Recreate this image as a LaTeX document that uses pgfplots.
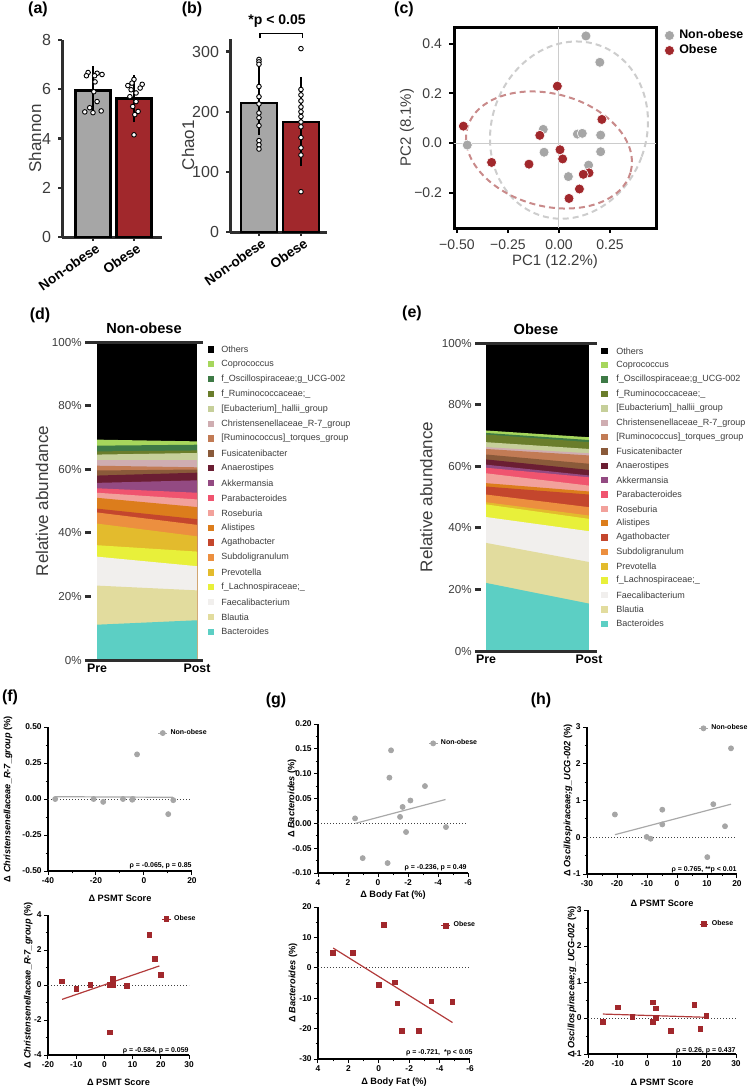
\documentclass[border=0pt]{standalone}
\usepackage{fontspec}
\setmainfont{Liberation Sans}
\usepackage{pgfplots}
\pgfplotsset{compat=1.18}

\newcommand\fs[1]{\fontsize{#1}{#1}\selectfont}

\definecolor{nob}{HTML}{A6A6A6}
\definecolor{obr}{HTML}{A1282C}
\definecolor{axd}{HTML}{2E2E2E}
\definecolor{txt}{HTML}{3C3C3C}
\definecolor{fitg}{HTML}{A9A9A9}
\definecolor{fitr}{HTML}{B23B3B}
\definecolor{elg}{HTML}{CDCDCD}
\definecolor{elr}{HTML}{C98A8A}
% taxa colours
\definecolor{tOthers}{HTML}{000000}
\definecolor{tCopro}{HTML}{A6D65C}
\definecolor{tOscill}{HTML}{3E7A46}
\definecolor{tRumino}{HTML}{6A7D2B}
\definecolor{tHallii}{HTML}{C6CF9A}
\definecolor{tChrist}{HTML}{CFADB1}
\definecolor{tTorques}{HTML}{C27B55}
\definecolor{tFusi}{HTML}{8A5A3A}
\definecolor{tAnaero}{HTML}{6B1E33}
\definecolor{tAkk}{HTML}{934A82}
\definecolor{tParab}{HTML}{F0546F}
\definecolor{tRoseb}{HTML}{F2A19B}
\definecolor{tAlist}{HTML}{DC7D1C}
\definecolor{tAgath}{HTML}{C4462D}
\definecolor{tSubdo}{HTML}{EC8F3F}
\definecolor{tPrev}{HTML}{E3BB2D}
\definecolor{tLachno}{HTML}{E8F03A}
\definecolor{tFaecal}{HTML}{F1EFED}
\definecolor{tBlautia}{HTML}{E2DC9E}
\definecolor{tBacter}{HTML}{5CCFC4}

% one band of the relative-abundance chart: colour, top at Pre, top at Post
\newcommand\band[3]{\addplot[fill=#1, draw=none] coordinates {(0,#2) (1,#3)} \closedcycle;}

\tikzset{
  zero/.style={densely dotted, line width=0.5pt, black!75},
  note/.style={anchor=east, font=\bfseries\fs{3.5}, inner sep=0pt},
}

\pgfplotsset{
  barax/.style={
    scale only axis, anchor=south west, clip=false,
    axis lines=left, axis line style={-, line width=1.5pt, color=axd},
    tick align=outside, major tick length=2pt,
    tick style={line width=1.2pt, color=axd},
    /pgf/number format/assume math mode=true,
    tick label style={font=\fs{8}, color=txt},
    xtick={0,1}, xticklabels={Non-obese,Obese},
    xticklabel style={font=\bfseries\fs{6.8}, color=black, rotate=35, anchor=north east, inner sep=1pt, xshift=1.5pt},
    ylabel style={font=\fs{8.5}, color=txt, anchor=center},
  },
  barstyle/.style={ybar, bar shift=0pt, bar width=0.85, draw=black, line width=1.2pt,
    error bars/.cd, y dir=both, y explicit,
    error bar style={line width=1pt, black},
    error mark options={line width=1pt, black, mark size=4.5pt}},
  dots/.style={only marks, mark=*, mark size=1.15pt, mark options={fill=white, draw=black, line width=0.45pt}},
  stackax/.style={
    scale only axis, anchor=south west, clip=false, axis on top,
    ymin=0, ymax=100,
    axis x line=bottom, axis y line=left,
    x axis line style={-, line width=1.5pt, color=axd},
    y axis line style={draw=none},
    xtick={0,1}, xticklabels={Pre,Post}, x tick style={draw=none},
    xticklabel style={font=\bfseries\fs{6.2}, color=black, inner sep=1pt, yshift=-1pt},
    ytick={0,20,40,60,80,100}, yticklabels={0\%,20\%,40\%,60\%,80\%,100\%},
    y tick style={line width=1.5pt, color=axd}, tick align=inside, major tick length=3pt,
    yticklabel style={font=\fs{5.8}, color=txt, inner sep=0pt, xshift=-1.5pt},
    ylabel={Relative abundance}, ylabel style={font=\fs{8.5}, color=txt, anchor=center},
    title style={font=\bfseries\fs{7.3}, color=black, at={(axis description cs:0.5,1)}, anchor=base, yshift=-1.5pt},
  },
  gp/.style={
    scale only axis, anchor=south west, clip=false,
    axis x line=bottom, axis y line=left, axis line style={-, line width=0.6pt, black},
    tick align=outside, major tick length=2pt, minor tick length=1.2pt,
    tick style={line width=0.5pt, black},
    /pgf/number format/assume math mode=true,
    tick label style={font=\bfseries\fs{4.2}, inner sep=1pt},
    label style={font=\bfseries\fs{4.6}, anchor=center},
    minor y tick num=1,
    legend style={draw=none, fill=none, font=\bfseries\fs{3.5}, inner sep=0pt, anchor=west,
      column sep=1pt, nodes={inner sep=0.5pt}},
    legend image code/.code={\draw[##1, mark repeat=2, mark phase=2] plot coordinates {(0pt,0pt) (2.2pt,0pt) (4.4pt,0pt)};},
    legend cell align=left,
  },
  nobpts/.style={only marks, mark=*, mark size=1.25pt, mark options={fill=nob, draw=nob}},
  obpts/.style={only marks, mark=square*, mark size=1.15pt, mark options={fill=obr, draw=obr}},
  nobleg/.style={draw=nob, line width=0.4pt, mark=*, mark size=1.25pt, mark options={fill=nob, draw=nob}},
  obleg/.style={draw=obr, line width=0.4pt, mark=square*, mark size=1.15pt, mark options={fill=obr, draw=obr}},
}

\begin{document}
\begin{tikzpicture}
\useasboundingbox (0,0) rectangle (375pt,-544pt);

% panel letters
\node[font=\bfseries\fs{8}] at (19pt,-4.5pt) {(a)};
\node[font=\bfseries\fs{8}] at (96pt,-4.5pt) {(b)};
\node[font=\bfseries\fs{8}] at (202pt,-4.5pt) {(c)};
\node[font=\bfseries\fs{8}] at (20pt,-157.5pt) {(d)};
\node[font=\bfseries\fs{8}] at (206pt,-156.5pt) {(e)};
\node[font=\bfseries\fs{8}] at (5pt,-348.5pt) {(f)};
\node[font=\bfseries\fs{8}] at (138pt,-350pt) {(g)};
\node[font=\bfseries\fs{8}] at (270.5pt,-350pt) {(h)};

% (a) Shannon
\begin{axis}[barax, at={(31pt,-118.5pt)}, width=50pt, height=98.5pt,
  xmin=-0.756, xmax=1.683, ymin=0, ymax=8, ytick={0,2,4,6,8},
  ylabel={Shannon}, ylabel style={at={(axis description cs:-0.27,0.5)}}]
\addplot[fill=nob, barstyle] coordinates {(0,5.95) +- (0,0.62)};
\addplot[fill=obr, barstyle] coordinates {(1,5.62) +- (0,0.60)};
\addplot[dots] coordinates {(-0.12,6.68) (0.10,6.65) (-0.16,6.55) (0.22,6.60) (0.04,6.55) (0.05,6.30)
  (0.02,5.90) (0.10,5.50) (-0.08,5.25) (-0.20,5.08) (0.00,5.05) (0.20,5.12)};
\addplot[dots] coordinates {(1.00,6.40) (0.85,6.15) (1.20,6.20) (0.95,6.25) (0.93,5.98) (1.05,5.85)
  (0.90,5.70) (1.05,5.50) (0.97,5.30) (1.10,5.10) (1.02,4.97) (1.00,4.15) (1.15,6.05)};
\end{axis}

% (b) Chao1
\begin{axis}[barax, at={(115pt,-116pt)}, width=48.5pt, height=96.5pt,
  xmin=-0.69, xmax=1.62, ymin=0, ymax=321, ytick={0,100,200,300},
  ylabel={Chao1}, ylabel style={at={(axis description cs:-0.433,0.45)}}]
\addplot[fill=nob, barstyle] coordinates {(0,215) += (0,50) -= (0,38)};
\addplot[fill=obr, barstyle] coordinates {(1,183) += (0,60) -= (0,59)};
\addplot[dots] coordinates {(0,287) (0,283) (0,279) (0,242) (0,225) (0,213) (0,198) (0,190)
  (0,177) (0,152) (0,145) (0,138)};
\addplot[dots] coordinates {(1,305) (1,237) (1,228) (1,218) (1,208) (1,200) (1,192) (1,183)
  (1,175) (1,157) (1,140) (1,128) (1,67)};
\draw[line width=0.8pt, black] (axis cs:0.02,322) -- (axis cs:0.02,330) -- (axis cs:1.04,330) -- (axis cs:1.04,322);
\node[font=\bfseries\fs{7}, inner sep=0pt] at (axis cs:0.43,350) {*p < 0.05};
\end{axis}

% (c) PCoA
\begin{axis}[scale only axis, anchor=south west, at={(227pt,-114pt)}, width=101pt, height=100.5pt,
  xmin=-0.514, xmax=0.475, ymin=-0.342, ymax=0.467,
  axis line style={line width=1.5pt, black},
  tick align=outside, xtick pos=bottom, ytick pos=left, major tick length=2.5pt,
  tick style={line width=0.9pt, black},
  xtick={-0.5,-0.25,0,0.25}, xticklabels={−0.50,−0.25,0.00,0.25},
  ytick={-0.2,0,0.2,0.4}, yticklabels={−0.2,0.0,0.2,0.4},
  tick label style={font=\fs{7}, color=txt},
  xlabel={PC1 (12.2\%)}, ylabel={PC2 (8.1\%)},
  label style={font=\fs{7.5}, color=txt, anchor=center},
  xlabel style={at={(axis description cs:0.5,-0.169)}},
  ylabel style={at={(axis description cs:-0.233,0.5)}},
  clip=false,
  legend style={at={(axis description cs:1.04,0.997)}, anchor=north west, draw=none, fill=none,
    inner sep=0pt, font=\bfseries\fs{6.2}, row sep=0pt, column sep=2pt,
    nodes={inner sep=0.4pt, minimum height=7.5pt}},
  legend cell align=left,
  legend image code/.code={\draw[#1] plot coordinates {(2.5pt,0pt)};}]
\draw[gray!40, line width=0.5pt] (axis cs:0,-0.342) -- (axis cs:0,0.467);
\draw[gray!40, line width=0.5pt] (axis cs:-0.514,0) -- (axis cs:0.475,0);
\draw[elg, line width=1pt, dash pattern=on 3pt off 2pt, rotate around={-20:(axis cs:0.049,0.052)}]
  (axis cs:0.049,0.052) ellipse [x radius=38.7pt, y radius=45pt];
\draw[elr, line width=1pt, dash pattern=on 3pt off 2pt, rotate around={-15:(axis cs:-0.049,-0.028)}]
  (axis cs:-0.049,-0.028) ellipse [x radius=42.3pt, y radius=28.1pt];
\addplot[only marks, mark=*, mark size=2.5pt, mark options={fill=nob, draw=white, line width=0.3pt}]
  coordinates {(0.132,0.431) (0.200,0.325) (-0.077,0.055) (0.090,0.036) (0.114,0.039) (0.204,0.032)
  (-0.073,-0.037) (0.204,-0.035) (0.145,-0.089) (0.046,-0.135) (-0.449,-0.008)};
\addlegendentry{Non-obese}
\addplot[only marks, mark=*, mark size=2.5pt, mark options={fill=obr, draw=white, line width=0.3pt}]
  coordinates {(-0.008,0.229) (0.210,0.095) (-0.094,0.031) (0.005,-0.027) (0.018,-0.064) (-0.147,-0.085)
  (-0.330,-0.078) (0.147,-0.120) (0.119,-0.126) (0.100,-0.185) (0.049,-0.223) (-0.468,0.068)};
\addlegendentry{Obese}
\end{axis}

% (d) Non-obese composition
\begin{axis}[stackax, at={(42.5pt,-330pt)}, width=59pt, height=159pt, xmin=-0.12, xmax=1.06,
  title={Non-obese}, ylabel style={at={(axis description cs:-0.364,0.5)}}]
\band{tOthers}{100}{100}
\band{tCopro}{69.3}{68.75}
\band{tOscill}{67.4}{67.7}
\band{tRumino}{65.6}{65.9}
\band{tHallii}{64.6}{65.1}
\band{tChrist}{63.0}{63.0}
\band{tTorques}{61.1}{60.6}
\band{tFusi}{59.6}{59.9}
\band{tAnaero}{58.0}{58.9}
\band{tAkk}{55.7}{56.5}
\band{tParab}{54.0}{52.6}
\band{tRoseb}{52.6}{50.5}
\band{tAlist}{51.0}{48.1}
\band{tAgath}{47.6}{44.3}
\band{tSubdo}{46.4}{42.5}
\band{tPrev}{42.9}{38.9}
\band{tLachno}{36.1}{34.1}
\band{tFaecal}{32.5}{29.5}
\band{tBlautia}{23.4}{21.9}
\band{tBacter}{11.1}{12.5}
\draw[line width=1.5pt, axd] (rel axis cs:0,1) -- (rel axis cs:1,1);
\end{axis}

% (e) Obese composition
\begin{axis}[stackax, at={(237.5pt,-325.5pt)}, width=61pt, height=154pt, xmin=-0.107, xmax=1.078,
  title={Obese}, ylabel style={at={(axis description cs:-0.40,0.5)}}]
\band{tOthers}{100}{100}
\band{tCopro}{71.6}{69.4}
\band{tOscill}{70.8}{68.5}
\band{tRumino}{70.3}{67.8}
\band{tHallii}{67.8}{65.6}
\band{tChrist}{66.2}{64.2}
\band{tTorques}{65.6}{63.5}
\band{tFusi}{63.8}{60.8}
\band{tAnaero}{62.2}{58.8}
\band{tAkk}{60.5}{57.0}
\band{tParab}{59.5}{56.4}
\band{tRoseb}{57.7}{53.7}
\band{tAlist}{54.5}{51.8}
\band{tAgath}{53.4}{50.8}
\band{tSubdo}{50.8}{46.7}
\band{tPrev}{48.3}{44.0}
\band{tLachno}{47.6}{42.9}
\band{tFaecal}{43.5}{38.9}
\band{tBlautia}{35.1}{28.9}
\band{tBacter}{22.1}{15.4}
\draw[line width=1.5pt, axd] (rel axis cs:0,1) -- (rel axis cs:1,1);
\end{axis}

% legends of (d) and (e)
\foreach \c/\n [count=\i from 0] in {tOthers/Others, tCopro/Coprococcus,
  tOscill/{f\_Oscillospiraceae;g\_UCG-002}, tRumino/{f\_Ruminococcaceae;\_},
  tHallii/{[Eubacterium]\_hallii\_group}, tChrist/{Christensenellaceae\_R-7\_group},
  tTorques/{[Ruminococcus]\_torques\_group}, tFusi/Fusicatenibacter, tAnaero/Anaerostipes,
  tAkk/Akkermansia, tParab/Parabacteroides, tRoseb/Roseburia, tAlist/Alistipes,
  tAgath/Agathobacter, tSubdo/Subdoligranulum, tPrev/Prevotella,
  tLachno/{f\_Lachnospiraceae;\_}, tFaecal/Faecalibacterium, tBlautia/Blautia, tBacter/Bacteroides} {
  \pgfmathsetmacro\ya{-(174.7+\i*7.43)}
  \pgfmathsetmacro\yb{-(175.45+\i*7.18)}
  \fill[\c] (103.9pt,\ya pt-1.6pt) rectangle (107.1pt,\ya pt+1.6pt);
  \node[anchor=west, inner sep=0pt, font=\fs{4.5}, text=txt] at (110.5pt,\ya pt) {\n};
  \fill[\c] (300.65pt,\yb pt-1.6pt) rectangle (303.85pt,\yb pt+1.6pt);
  \node[anchor=west, inner sep=0pt, font=\fs{4.5}, text=txt] at (308pt,\yb pt) {\n};
}

% (f) top
\begin{axis}[gp, at={(24pt,-435.5pt)}, width=72pt, height=72pt,
  xmin=-40, xmax=20, ymin=-0.5, ymax=0.5,
  xtick={-40,-20,0,20}, minor x tick num=1,
  ytick={-0.5,-0.25,0,0.25,0.5},
  yticklabel style={/pgf/number format/fixed, /pgf/number format/fixed zerofill, /pgf/number format/precision=2},
  xlabel={Δ PSMT Score}, xlabel style={at={(axis description cs:0.5,-0.1875)}},
  ylabel={Δ \textit{Christensenellaceae\_R-7\_group} (\%)}, ylabel style={at={(axis description cs:-0.278,0.5)}},
  legend style={at={(axis description cs:0.761,0.958)}}]
\draw[zero] (axis cs:-40,0) -- (axis cs:20,0);
\addplot[fitg, line width=0.6pt, forget plot] coordinates {(-37,0.016) (12,0.012)};
\addplot[nobpts, forget plot] coordinates {(-37,0) (-21,0) (-17,-0.02) (-8.75,0) (-4.7,0) (-4.9,-0.005)
  (-2.9,0.31) (10.1,-0.105) (12.2,-0.008)};
\addlegendimage{nobleg}
\addlegendentry{Non-obese}
\node[note] at (axis description cs:1,0.035) {ρ = -0.065, p = 0.85};
\end{axis}

% (f) bottom
\begin{axis}[gp, at={(24pt,-527.5pt)}, width=70.5pt, height=70pt,
  xmin=-20, xmax=30, ymin=-4, ymax=4,
  xtick={-20,-10,0,10,20,30}, ytick={-4,-2,0,2,4},
  xlabel={Δ PSMT Score}, xlabel style={at={(axis description cs:0.5,-0.193)}},
  ylabel={Δ \textit{Christensenellaceae\_R-7\_group} (\%)}, ylabel style={at={(axis description cs:-0.14,0.5)}},
  legend style={at={(axis description cs:0.803,0.971)}}]
\draw[zero] (axis cs:-20,0) -- (axis cs:30,0);
\addplot[fitr, line width=0.6pt, forget plot] coordinates {(-15,-0.82) (19.5,1.09)};
\addplot[obpts, forget plot] coordinates {(-15,0.2) (-10,-0.22) (-5,0) (2,0) (3,0.35) (3,0)
  (8,-0.05) (2,-2.7) (16,2.85) (18,1.5) (20,0.57)};
\addlegendimage{obleg}
\addlegendentry{Obese}
\node[note] at (axis description cs:1,0.03) {ρ = -0.584, p = 0.059};
\end{axis}

% (g) top
\begin{axis}[gp, at={(159pt,-436.5pt)}, width=75pt, height=74.5pt,
  x dir=reverse, xmin=-6, xmax=4, ymin=-0.1, ymax=0.2,
  xtick={-6,-4,-2,0,2,4}, minor x tick num=1,
  ytick={-0.1,-0.05,0,0.05,0.1,0.15,0.2},
  yticklabel style={/pgf/number format/fixed, /pgf/number format/fixed zerofill, /pgf/number format/precision=2},
  xlabel={Δ Body Fat (\%)}, xlabel style={at={(axis description cs:0.5,-0.148)}},
  ylabel={Δ \textit{Bacteroides} (\%)}, ylabel style={at={(axis description cs:-0.173,0.5)}},
  legend style={at={(axis description cs:0.733,0.87)}}]
\draw[zero] (axis cs:4,0) -- (axis cs:-6,0);
\addplot[fitg, line width=0.6pt, forget plot] coordinates {(1.5,0.0) (-4.5,0.048)};
\addplot[nobpts, forget plot] coordinates {(1.53,0.01) (1.02,-0.07) (-0.64,-0.08) (-0.76,0.092)
  (-0.87,0.147) (-1.47,0.013) (-1.64,0.033) (-1.87,-0.0175) (-2.16,0.046) (-3.13,0.075) (-4.53,-0.0075)};
\addlegendimage{nobleg}
\addlegendentry{Non-obese}
\node[note] at (axis description cs:0.993,0.034) {ρ = -0.236, p = 0.49};
\end{axis}

% (g) bottom
\begin{axis}[gp, at={(159pt,-529.5pt)}, width=76pt, height=76pt,
  x dir=reverse, xmin=-6, xmax=4, ymin=-30, ymax=20,
  xtick={-6,-4,-2,0,2,4}, minor x tick num=1,
  ytick={-30,-20,-10,0,10,20},
  xlabel={Δ Body Fat (\%)}, xlabel style={at={(axis description cs:0.5,-0.151)}},
  ylabel={Δ \textit{Bacteroides} (\%)}, ylabel style={at={(axis description cs:-0.164,0.5)}},
  legend style={at={(axis description cs:0.807,0.877)}}]
\draw[zero] (axis cs:4,0) -- (axis cs:-6,0);
\addplot[fitr, line width=0.6pt, forget plot] coordinates {(3,6.5) (-4.85,-18)};
\addplot[obpts, forget plot] coordinates {(3.0,5.0) (1.7,5.0) (-0.33,14.1) (0,-5.6) (-1.05,-4.8)
  (-1.23,-11.7) (-1.53,-20.7) (-2.65,-20.7) (-3.47,-11.1) (-4.85,-11.2)};
\addlegendimage{obleg}
\addlegendentry{Obese}
\node[note] at (axis description cs:1.02,0.04) {ρ = -0.721,\ \ *p < 0.05};
\end{axis}

% (h) top
\begin{axis}[gp, at={(293.5pt,-437pt)}, width=75pt, height=73.5pt,
  xmin=-30, xmax=20, ymin=-1, ymax=3,
  xtick={-30,-20,-10,0,10,20}, minor x tick num=1,
  ytick={-1,0,1,2,3},
  xlabel={Δ PSMT Score}, xlabel style={at={(axis description cs:0.5,-0.197)}},
  ylabel={Δ \textit{Oscillospiraceae;g\_UCG-002} (\%)}, ylabel style={at={(axis description cs:-0.127,0.5)}},
  legend style={at={(axis description cs:0.742,0.991)}}]
\draw[zero] (axis cs:-30,0) -- (axis cs:20,0);
\addplot[fitg, line width=0.6pt, forget plot] coordinates {(-20.7,0.07) (18,0.9)};
\addplot[nobpts, forget plot] coordinates {(-20.7,0.62) (-10.1,0.01) (-8.8,-0.04) (-4.9,0.75)
  (-4.9,0.35) (10.1,-0.54) (12.1,0.9) (16,0.3) (18,2.42)};
\addlegendimage{nobleg}
\addlegendentry{Non-obese}
\node[note] at (axis description cs:1,0.027) {ρ = 0.765, **p < 0.01};
\end{axis}

% (h) bottom
\begin{axis}[gp, at={(294pt,-527pt)}, width=74pt, height=72pt,
  xmin=-20, xmax=30, ymin=-1, ymax=3,
  xtick={-20,-10,0,10,20,30},
  ytick={-1,0,1,2,3},
  xlabel={Δ PSMT Score}, xlabel style={at={(axis description cs:0.5,-0.194)}},
  ylabel={Δ \textit{Oscillospiraceae;g\_UCG-002} (\%)}, ylabel style={at={(axis description cs:-0.108,0.5)}},
  legend style={at={(axis description cs:0.749,0.903)}}]
\draw[zero] (axis cs:-20,0) -- (axis cs:30,0);
\addplot[fitr, line width=0.6pt, forget plot] coordinates {(-15,0.11) (20,0.02)};
\addplot[obpts, forget plot] coordinates {(-15,-0.1) (-10,0.3) (-5,0.03) (2,0.43) (2,-0.1) (3,0.27)
  (3,0) (8,-0.35) (16,0.37) (18,-0.3) (20,0.06)};
\addlegendimage{obleg}
\addlegendentry{Obese}
\node[note] at (axis description cs:1,0.02) {ρ = 0.26, p = 0.437};
\end{axis}
\end{tikzpicture}
\end{document}
